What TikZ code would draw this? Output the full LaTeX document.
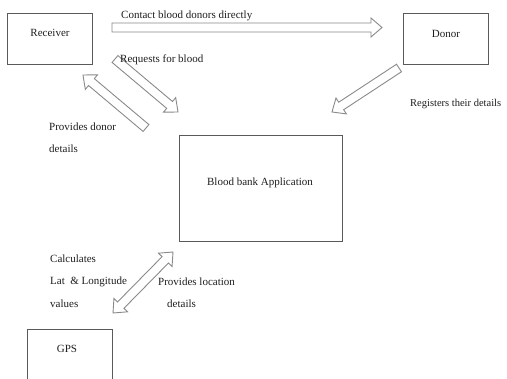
\documentclass[tikz,border=0pt]{standalone}
\usepackage{fontspec}
\setmainfont{Liberation Serif}
\usetikzlibrary{calc}
\definecolor{boxgray}{HTML}{5A5A5A}
\definecolor{arrgray}{HTML}{8A8A8A}
\definecolor{txt}{HTML}{1E1E1E}
\tikzset{
  box/.style={draw=boxgray, line width=0.9pt, inner sep=0pt, rectangle},
  lbl/.style={font=\fontsize{11}{13}\selectfont, text=txt, inner sep=0pt, anchor=west},
  arr/.style={draw=arrgray, line width=0.9pt, line join=miter},
}
\newcommand\aw{4.5pt}
\newcommand\ahw{9.5pt}
\newcommand\ah{11pt}
% single block arrow from #1 (tail) to #2 (tip)
\newcommand\blockarrow[2]{%
  \draw[arr] ($(#1)!\aw!90:(#2)$)
    -- ($(#2)!\ah!(#1)!\aw!-90:(#1)$)
    -- ($(#2)!\ah!(#1)!\ahw!-90:(#1)$)
    -- (#2)
    -- ($(#2)!\ah!(#1)!\ahw!90:(#1)$)
    -- ($(#2)!\ah!(#1)!\aw!90:(#1)$)
    -- ($(#1)!\aw!-90:(#2)$) -- cycle;}
% double block arrow between #1 and #2
\newcommand\dblockarrow[2]{%
  \draw[arr] (#1)
    -- ($(#1)!\ah!(#2)!\ahw!90:(#2)$)
    -- ($(#1)!\ah!(#2)!\aw!90:(#2)$)
    -- ($(#2)!\ah!(#1)!\aw!-90:(#1)$)
    -- ($(#2)!\ah!(#1)!\ahw!-90:(#1)$)
    -- (#2)
    -- ($(#2)!\ah!(#1)!\ahw!90:(#1)$)
    -- ($(#2)!\ah!(#1)!\aw!90:(#1)$)
    -- ($(#1)!\ah!(#2)!\aw!-90:(#2)$)
    -- ($(#1)!\ah!(#2)!\ahw!-90:(#2)$)
    -- cycle;}
\begin{document}
\begin{tikzpicture}[x=1pt, y=-1pt]
\useasboundingbox[fill=white] (0,0) rectangle (507,379);
% boxes
\node[box, minimum width=85pt, minimum height=51pt] (receiver) at (49.5,38.5) {};
\node[box, minimum width=85pt, minimum height=51pt] (donor) at (445.5,38.5) {};
\node[box, minimum width=163pt, minimum height=106pt] (app) at (260.5,188) {};
\node[box, minimum width=85pt, minimum height=70pt] (gps) at (69.5,364) {};
% arrow end points
\coordinate (c1a) at (112,27.5);
\coordinate (c1b) at (382,27.5);
\coordinate (c2a) at (115,59);
\coordinate (c2b) at (178,112);
\coordinate (c3a) at (146,128);
\coordinate (c3b) at (83,75);
\coordinate (c4a) at (399,68);
\coordinate (c4b) at (332,112);
\coordinate (c5a) at (173,252);
\coordinate (c5b) at (113,313);
\blockarrow{c1a}{c1b}
\blockarrow{c2a}{c2b}
\blockarrow{c3a}{c3b}
\blockarrow{c4a}{c4b}
\dblockarrow{c5a}{c5b}
% box texts
\node[lbl, anchor=center] (treceiver) at (50,33) {Receiver};
\node[lbl, anchor=center] (tdonor) at (446,33.5) {Donor};
\node[lbl, anchor=center] (tapp) at (260,183) {Blood bank Application};
\node[lbl, anchor=center] (tgps) at (67,349) {GPS};
% connector texts
\node[lbl] (l1) at (121,16) {Contact blood donors directly};
\node[lbl] (l2) at (120,60) {Requests for blood};
\node[lbl] (l3) at (49,127) {Provides donor};
\node[lbl] (l4) at (49,149) {details};
\node[lbl, font=\fontsize{10.5}{12.5}\selectfont] (l5) at (410,104) {Registers their details};
\node[lbl] (l6) at (50,259) {Calculates};
\node[lbl] (l7) at (50,282) {Lat~~\& Longitude};
\node[lbl] (l8) at (50,304) {values};
\node[lbl] (l9) at (158,282) {Provides location};
\node[lbl] (l10) at (167,304) {details};
\end{tikzpicture}
\end{document}
